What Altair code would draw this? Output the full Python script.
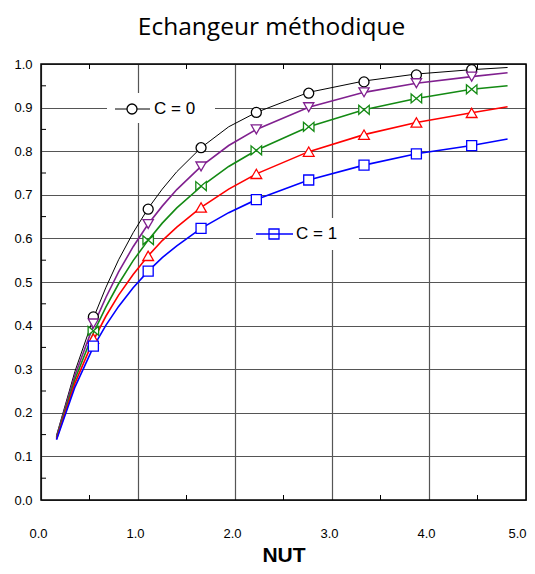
import altair as alt
import pandas as pd

# ---------------- data ----------------
series = ["C = 0", "C = 0.25", "C = 0.5", "C = 0.75", "C = 1"]
colors = ["#000000", "#80208f", "#138a13", "#ff0000", "#0000ff"]

nut_line = [0.16, 0.35, 0.54, 0.67, 0.8, 0.95, 1.105, 1.25, 1.4, 1.65,
            1.935, 2.22, 2.76, 3.33, 3.87, 4.44, 4.81]
eff_c0 = [0.148, 0.295, 0.417, 0.488, 0.551, 0.613, 0.669, 0.713, 0.753, 0.808,
          0.856, 0.889, 0.935, 0.961, 0.977, 0.987, 0.992]
eff_c025 = [0.145, 0.286, 0.400, 0.465, 0.523, 0.581, 0.633, 0.674, 0.712, 0.765,
            0.813, 0.850, 0.901, 0.935, 0.956, 0.971, 0.980]
eff_c05 = [0.143, 0.277, 0.383, 0.443, 0.496, 0.549, 0.596, 0.635, 0.670, 0.719,
           0.765, 0.802, 0.856, 0.895, 0.921, 0.942, 0.950]
eff_c075 = [0.140, 0.268, 0.366, 0.422, 0.470, 0.517, 0.560, 0.595, 0.626, 0.671,
            0.713, 0.748, 0.799, 0.838, 0.866, 0.888, 0.902]
eff_c1 = [0.138, 0.259, 0.351, 0.401, 0.444, 0.487, 0.525, 0.556, 0.583, 0.623,
          0.659, 0.689, 0.734, 0.768, 0.794, 0.813, 0.828]

nut_mark = [0.54, 1.105, 1.65, 2.22, 2.76, 3.33, 3.87, 4.44]
mark_c0 = [0.420, 0.667, 0.808, 0.889, 0.933, 0.959, 0.975, 0.987]
mark_c025 = [0.405, 0.633, 0.765, 0.850, 0.901, 0.935, 0.956, 0.971]
mark_c05 = [0.388, 0.596, 0.720, 0.802, 0.856, 0.895, 0.921, 0.942]
mark_c075 = [0.370, 0.560, 0.671, 0.748, 0.799, 0.838, 0.866, 0.888]
mark_c1 = [0.353, 0.525, 0.623, 0.689, 0.734, 0.768, 0.794, 0.813]

x_major = [0.0, 1.0, 2.0, 3.0, 4.0, 5.0]
y_major = [0.0, 0.1, 0.2, 0.3, 0.4, 0.5, 0.6, 0.7, 0.8, 0.9, 1.0]
x_minor = [0.5, 1.5, 2.5, 3.5, 4.5]
y_minor = [0.05, 0.15, 0.25, 0.35, 0.45, 0.55, 0.65, 0.75, 0.85, 0.95]

line_vals = [eff_c0, eff_c025, eff_c05, eff_c075, eff_c1]
mark_vals = [mark_c0, mark_c025, mark_c05, mark_c075, mark_c1]

# ---------------- styling ----------------
W, H = 485, 436
FONT = "Liberation Sans"
shapes = ["circle", "triangle-down", "M-1,-0.85L1,0.85L1,-0.85L-1,0.85Z",
          "triangle-up", "square"]
sizes = [100, 105, 110, 115, 100]
widths = [1.0, 1.6, 1.6, 1.6, 1.6]

xs = alt.Scale(domain=[0, 5], nice=False, zero=False)
ys = alt.Scale(domain=[0, 1], nice=False, zero=False)

x_axis = alt.Axis(values=x_major, format=".1f", labelFont=FONT, labelFontSize=13,
                  labelColor="black", labelPadding=27,
                  labelOffset={"condition": {"test": "datum.value >= 5", "value": -9},
                               "value": -3},
                  ticks=False, domain=False, grid=True, gridColor="#555555",
                  gridWidth=1.2, labelFlush=False, title="NUT", titleFont=FONT,
                  titleFontSize=21, titleFontWeight="bold", titleColor="black",
                  titlePadding=4)
y_axis = alt.Axis(values=y_major, format=".1f", labelFont=FONT, labelFontSize=13,
                  labelColor="black", labelPadding=9, ticks=False, domain=False,
                  grid=True, gridColor="#555555", gridWidth=1.2, labelFlush=False,
                  title="")


def X(field):
    return alt.X(field, scale=xs, axis=x_axis)


def Y(field):
    return alt.Y(field, scale=ys, axis=y_axis)


one = pd.DataFrame({"k": [0]})
layers = []

# lines
for i in range(len(series)):
    df = pd.DataFrame({"nut": nut_line, "eff": line_vals[i]})
    layers.append(alt.Chart(df).mark_line(color=colors[i], strokeWidth=widths[i])
                  .encode(x=X("nut:Q"), y=Y("eff:Q")))

# markers
for i in range(len(series)):
    df = pd.DataFrame({"nut": nut_mark, "eff": mark_vals[i]})
    layers.append(alt.Chart(df).mark_point(shape=shapes[i], filled=True, fill="white",
                                           stroke=colors[i], strokeWidth=1.3,
                                           size=sizes[i], opacity=1)
                  .encode(x=X("nut:Q"), y=Y("eff:Q")))

# inward minor ticks
tx = pd.DataFrame({"nut": x_minor})
ty = pd.DataFrame({"eff": y_minor})
layers.append(alt.Chart(tx).mark_rule(color="black", strokeWidth=1)
              .encode(x=X("nut:Q"), y=alt.value(H), y2=alt.value(H - 5)))
layers.append(alt.Chart(tx).mark_rule(color="black", strokeWidth=1)
              .encode(x=X("nut:Q"), y=alt.value(0), y2=alt.value(5)))
layers.append(alt.Chart(ty).mark_rule(color="black", strokeWidth=1)
              .encode(y=Y("eff:Q"), x=alt.value(0), x2=alt.value(5)))

# frame
layers.append(alt.Chart(one).mark_rect(fillOpacity=0, stroke="black", strokeWidth=1.5)
              .encode(x=alt.value(0), x2=alt.value(W), y=alt.value(0), y2=alt.value(H)))


# in-plot legend labels
def legend_entry(x0, x1, xm, xt, yl, box, idx, text, line_on_top):
    out = []
    out.append(alt.Chart(one).mark_rect(color="white")
               .encode(x=alt.value(box[0]), x2=alt.value(box[1]),
                       y=alt.value(box[2]), y2=alt.value(box[3])))
    ln = (alt.Chart(one).mark_rule(color=colors[idx], strokeWidth=widths[idx])
          .encode(x=alt.value(x0), x2=alt.value(x1), y=alt.value(yl)))
    pt = (alt.Chart(one).mark_point(shape=shapes[idx], filled=True, fill="white",
                                    stroke=colors[idx], strokeWidth=1.3,
                                    size=sizes[idx], opacity=1)
          .encode(x=alt.value(xm), y=alt.value(yl)))
    out += [pt, ln] if line_on_top else [ln, pt]
    out.append(alt.Chart(one).mark_text(text=text, align="left", baseline="middle",
                                        font=FONT, fontSize=17, color="black")
               .encode(x=alt.value(xt), y=alt.value(yl)))
    return out


layers += legend_entry(74, 109, 91, 113, 45, (66, 174, 29, 59), 0, "C = 0", False)
layers += legend_entry(215, 252, 233, 255, 170, (212, 318, 154, 186), 4, "C = 1", True)

chart = (alt.layer(*layers)
         .properties(width=W, height=H,
                     title=alt.TitleParams("Echangeur méthodique", font="Open Sans",
                                           fontSize=24.5, fontWeight="normal",
                                           color="black", anchor="middle", dx=-12,
                                           baseline="alphabetic", offset=-1),
                     autosize=alt.AutoSizeParams(type="none"),
                     padding={"left": 33, "top": 56, "right": 1, "bottom": 66})
         .configure_view(strokeWidth=0)
         .configure(background="white"))

chart.save("out.html", embed_options={"renderer": "svg", "actions": False})
